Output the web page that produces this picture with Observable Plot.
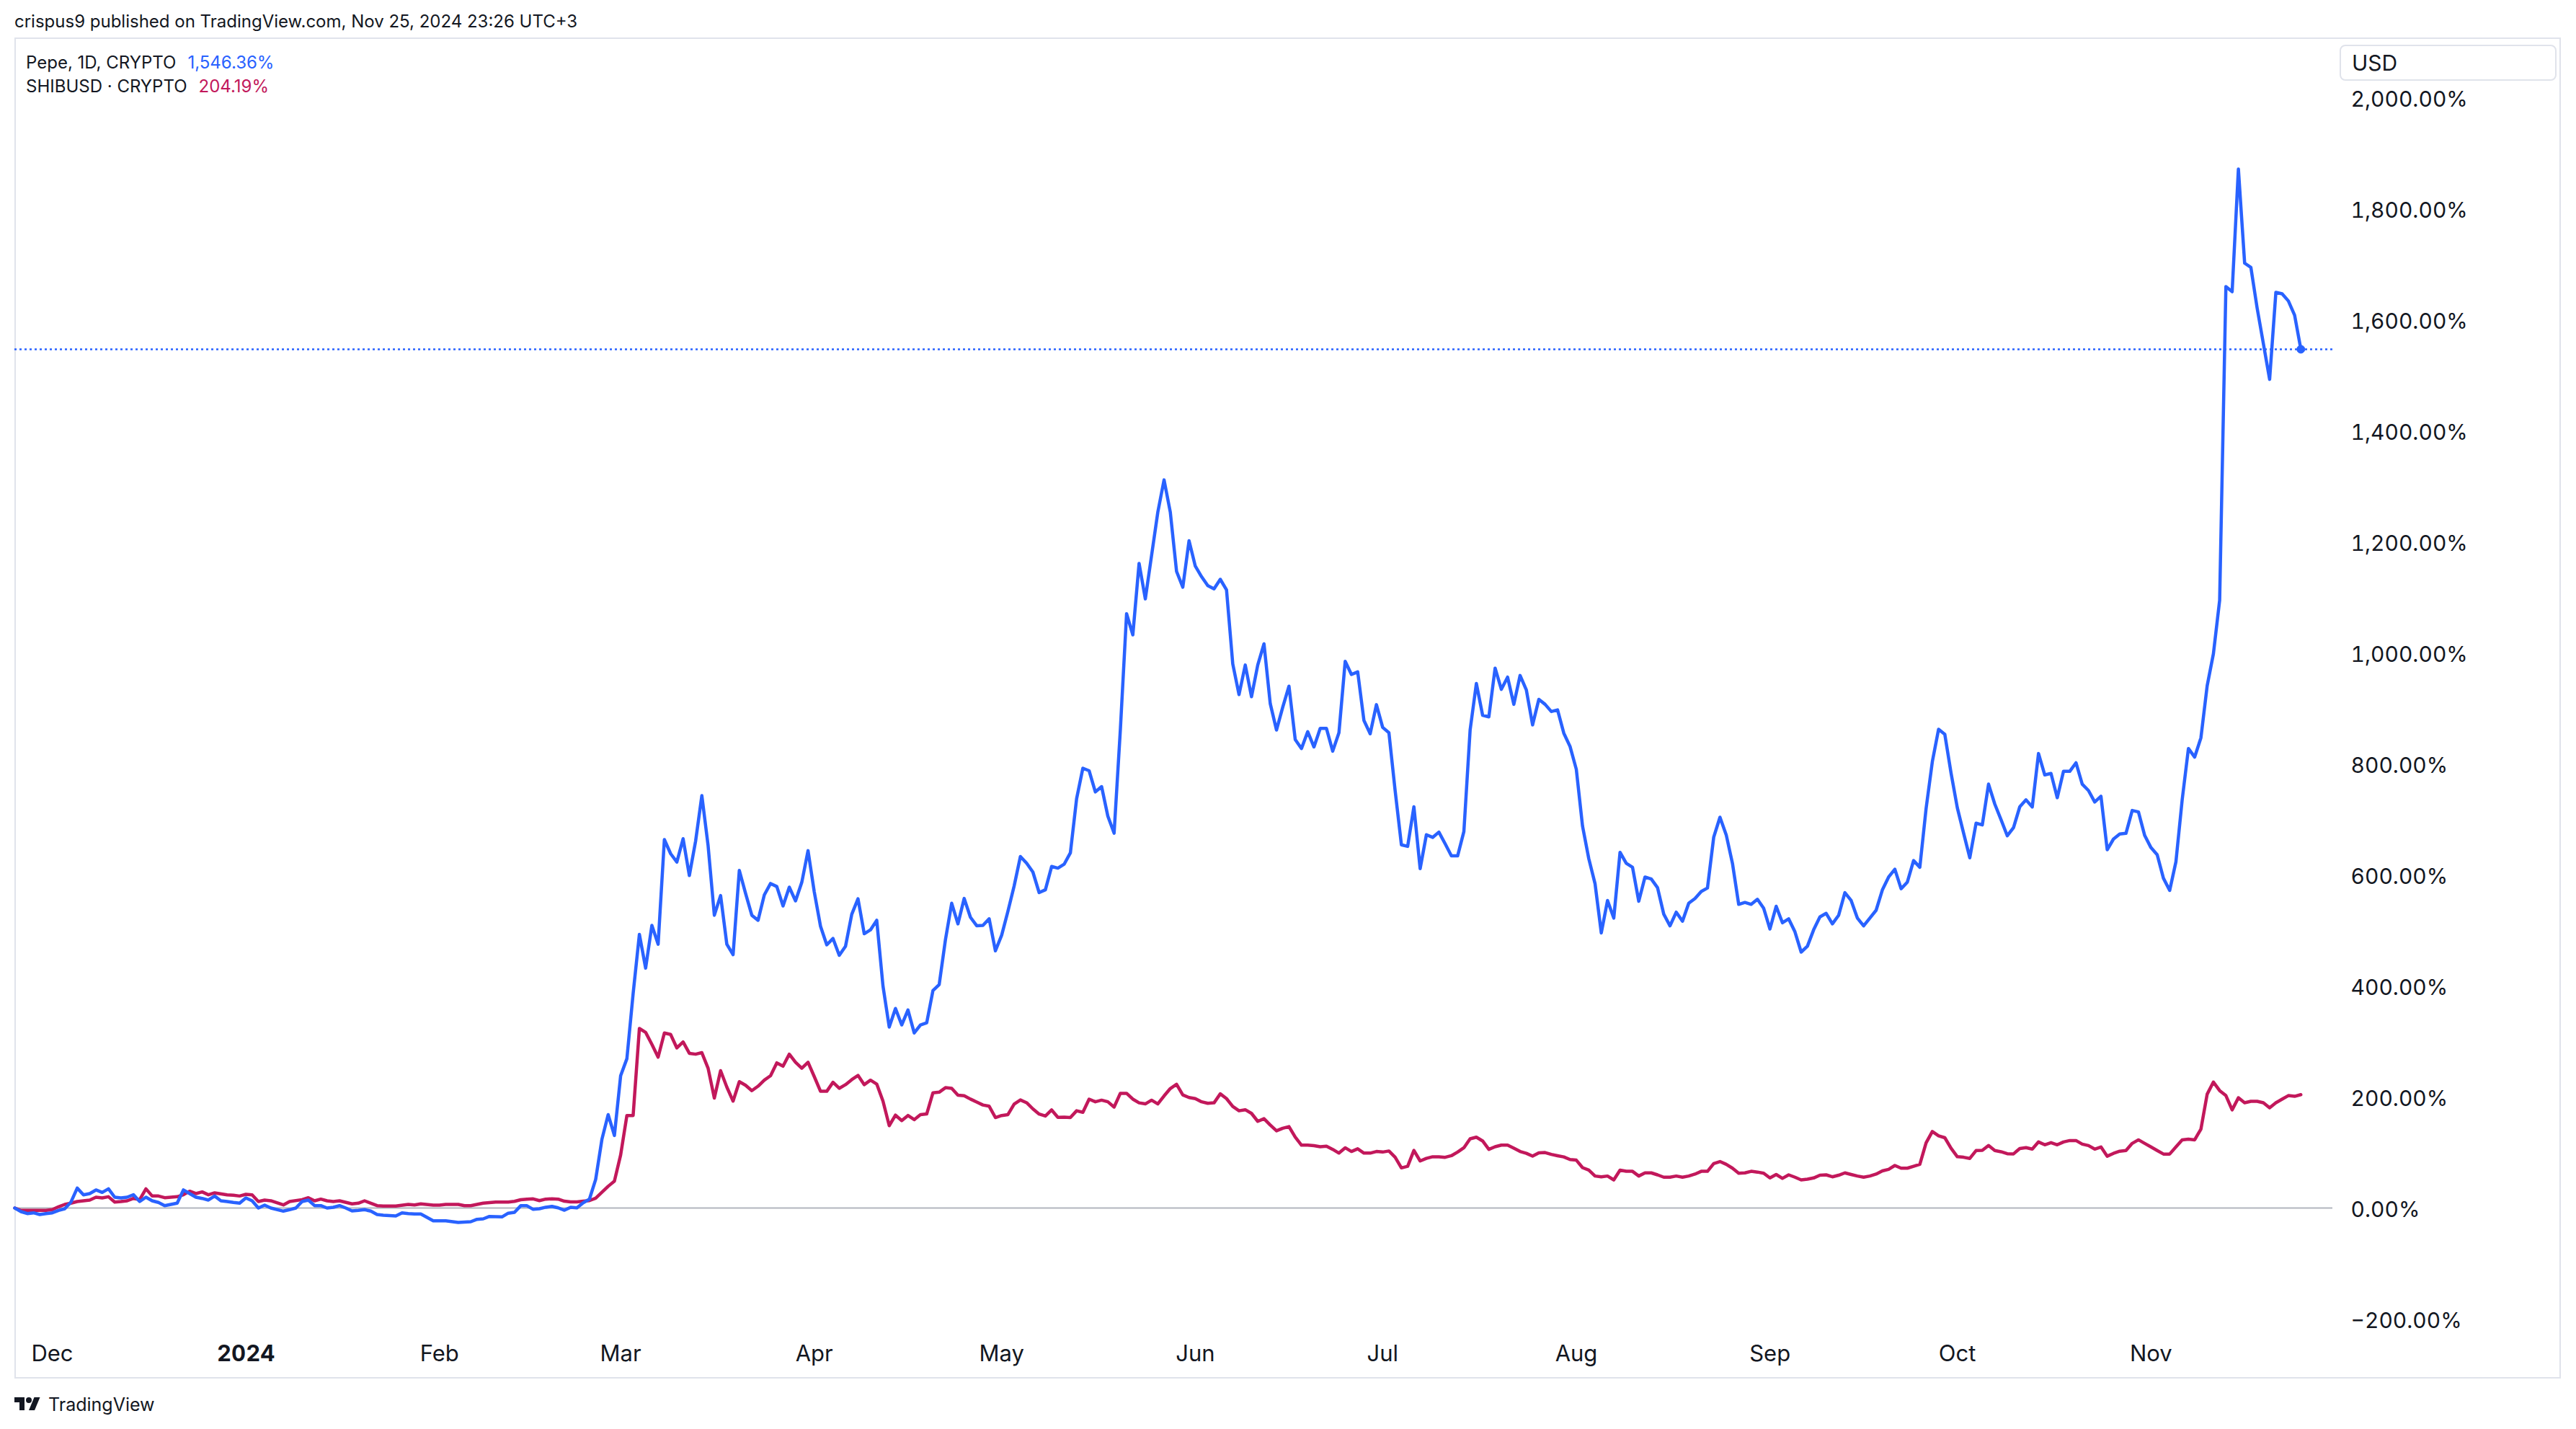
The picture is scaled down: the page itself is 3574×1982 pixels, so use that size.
<!DOCTYPE html>
<html><head><meta charset="utf-8">
<script src="https://cdn.jsdelivr.net/npm/d3@7"></script>
<script src="https://cdn.jsdelivr.net/npm/@observablehq/plot@0.6"></script>
<style>
html,body{margin:0;padding:0;background:#fff;}
#page{position:relative;width:3574px;height:1982px;font-family:Inter,"Noto Sans",sans-serif;color:#131722;overflow:hidden;background:#fff;}
#header{position:absolute;left:20px;top:14px;font-size:24px;line-height:32px;white-space:nowrap;}
#frame{position:absolute;left:20px;top:52px;width:3533px;height:1860px;box-sizing:border-box;border:2px solid #e0e3eb;}
#chart{position:absolute;left:20px;top:52px;}
#legend{position:absolute;left:36px;top:70px;font-size:24px;line-height:33px;white-space:nowrap;}
#legend .v{margin-left:16px;}
#usd{position:absolute;left:3246px;top:62px;width:301px;height:50px;box-sizing:border-box;border:2px solid #e0e3eb;border-radius:8px;font-size:30px;line-height:46px;padding-left:15px;}
#footer{position:absolute;left:20px;top:1934px;height:28px;display:flex;align-items:center;font-size:25px;}
#footer svg{margin-right:11px;}
</style></head>
<body><div id="page">
<div id="header"></div>
<div id="frame"></div>
<div id="chart"></div>
<div id="legend"></div>
<div id="usd">USD</div>
<div id="footer"><svg width="36" height="28" viewBox="0 0 36 28"><path fill="#131722" d="M14 22H7V11H0V4h14v18zM28 22h-8l7.5-18h8L28 22z"/><circle fill="#131722" cx="20" cy="8" r="4"/></svg><span>TradingView</span></div>
</div>
<script>
const headerText = "crispus9 published on TradingView.com, Nov 25, 2024 23:26 UTC+3";
const seriesNames = ["Pepe, 1D, CRYPTO", "SHIBUSD \u00b7 CRYPTO"];
const seriesColors = ["#2962ff", "#c2185b"];
const startDate = Date.UTC(2023, 10, 25);
// [day offset from 2023-11-25, % change]
const pepeSeries = [[0,0],[1,-6.5],[2,-10],[3,-8.7],[4,-11.7],[5,-10],[6,-8.7],[7,-4.3],[8,-1.3],[9,10.8],[10,35.9],[11,23.8],[12,26],[13,32.5],[14,28.1],[15,34.6],[16,19.5],[17,18.2],[18,19.5],[19,24],[20,11.7],[21,19.5],[22,13],[23,10],[24,4.3],[25,6.5],[26,8.7],[27,32.5],[28,26],[29,19.5],[30,17.3],[31,14.3],[32,21.6],[33,13],[34,11.7],[35,10],[36,8.7],[37,18.2],[38,13],[39,0],[40,5.2],[41,0],[43,-5.6],[44,-3],[45,0],[46,11.7],[47,14.3],[48,4.3],[49,4.3],[50,0],[51,1.3],[52,4.3],[53,0],[54,-5.2],[55,-4.3],[56,-3],[57,-5.6],[58,-11.7],[59,-13],[61,-14.3],[62,-8.7],[63,-10],[64,-10.8],[65,-10.8],[67,-23],[69,-23],[71,-26],[73,-24.7],[74,-20.3],[75,-19.5],[76,-15.1],[78,-16],
[79,-9.3],[80,-7.7],[81,4.1],[82,4.1],[83,-2.4],[84,-1.3],[85,1.4],[86,3],[87,0.3],[88,-4],[89,1.4],[90,0.3],[91,9.5],[92,15.9],[93,51.5],[94,123.6],[95,168.2],[96,130.6],[97,238.2],[98,268.9],[99,386.2],[100,492.8],[101,432],[102,508.9],[103,475],[104,663.4],[105,638.1],[106,623],[107,665],[108,598.8],[109,660.7],[110,742.5],[111,652.6],[112,527.2],[113,562.7],[114,475],[115,456.2],[116,607.9],[117,566.5],[118,527.2],[119,518.1],[120,563.8],[121,584.3],[122,578.9],[123,543.9],[124,577.8],[125,553.1],[126,586.4],[127,643.5],[128,569.2],[129,507.3],[130,473.9],[131,485.3],[132,455.1],[133,471.3],[134,528.8],[135,556.8],[136,493.9],[137,500.9],[138,518.1],[139,399.7],[140,325.9],[141,359.3],[142,329.7],[143,356.6],[144,315.2],[145,329.7],[146,333.5],[147,391.6],[148,402.4],[149,483.1],[150,548.8],[151,511.6],[152,557.4],[153,523.5],[154,508.4],[155,508.9],[156,520.8],[157,463.2],[158,491.2],[159,534.2],
[160,580],[161,633],[162,621],[163,605],[164,568],[165,573],[166,615],[167,612],[168,619],[169,639.5],[170,737],[171,792],[172,787.4],[173,749.3],[174,758.8],[175,705.5],[176,675],[177,860.7],[178,1070.2],[179,1032.1],[180,1160.7],[181,1096.9],[182,1174.9],[183,1253],[184,1311.1],[185,1253],[186,1146.4],[187,1117.8],[188,1201.6],[189,1155.9],[190,1136.9],[191,1120.7],[192,1115],[193,1132.1],[194,1113.1],[195,979.7],[196,924.5],[197,977.8],[198,920.7],[199,977.8],[200,1015.9],[201,908.3],[202,860.7],[203,901.7],[204,939.7],[205,843.6],[206,827.4],[207,857.8],[208,830.2],[209,863.6],[210,863.6],[211,822.6],[212,855.9],[213,984.5],[214,960.7],[215,965.5],[216,878],[217,854],[218,906.4],[219,865.5],[220,855.9],[221,751.2],[222,654],[223,651.2],[224,722.6],[225,611.2],[226,672.2],[227,667.4],[228,676.9],[229,656],[230,634.1],[231,634.1],[232,677.9],[233,860.7],[234,944.5],[235,887.4],[236,884.5],[237,972.1],[238,934],[239,955.9],
[240,907],[241,959],[242,933],[243,870],[244,916],[245,907],[246,894],[247,897],[248,855],[249,831],[250,790],[251,687.5],[252,629],[253,584.1],[254,495.4],[255,553.8],[256,522.1],[257,640.4],[258,620.7],[259,613.6],[260,552.4],[261,596],[262,592.5],[263,577],[264,529.2],[265,508.1],[266,532.7],[267,516.5],[268,548.9],[269,557.3],[270,570],[271,576.3],[272,667.8],[273,703.7],[274,672],[275,620.7],[276,546.8],[277,550.3],[278,546.8],[279,555.9],[280,539.7],[281,502.4],[282,543.3],[283,513.7],[284,520.7],[285,497.5],[286,460.9],[287,471.5],[288,501],[289,524.2],[290,530.6],[291,511.6],[292,527.1],[293,567.9],[294,553.8],[295,522.1],[296,508.1],[297,522.1],[298,536.2],[299,572.8],[300,596],[301,610.1],[302,574.9],[303,586.9],[304,625.6],[305,613.6],[306,719.2],[307,803.7],[308,862.1],[309,852.9],
[310,783],[311,720.7],[312,675.3],[313,630.7],[314,692.9],[315,689.8],[316,763.3],[317,727.4],[318,699.2],[319,670.3],[320,685.1],[321,722.5],[322,735],[323,722.2],[324,818.4],[325,779.9],[326,782.5],[327,738.8],[328,786.3],[329,786.3],[330,801.7],[331,763.2],[332,751.7],[333,731.1],[334,741.4],[335,645.2],[336,664.4],[337,673.4],[338,674.7],[339,715.8],[340,713.2],[341,670.8],[342,649],[343,636.2],[344,593.8],[345,572],[346,623.4],[347,735],[348,827.4],[349,812],[350,846.7],[351,940.3],[352,998.1],[353,1094.4],[354,1659.1],[355,1650.1],[356,1870.8],[357,1701.4],[358,1693.7],[359,1620.6],[360,1556.4],[361,1492.2],[362,1648.8],[363,1646.2],[364,1633.4],[365,1607.7],[366,1546.36]];
const shibSeries = [[0,0],[1,-4.3],[3,-4.3],[5,-4.3],[6,-3],[7,2.2],[8,6.5],[9,8.7],[10,11.7],[11,13],[12,14.3],[13,19.5],[14,18.2],[15,20.3],[16,10.8],[17,11.7],[18,13],[19,17.3],[20,15.1],[21,34.6],[22,21.6],[23,21.6],[24,18.6],[26,20.3],[27,23.8],[28,30.3],[29,26],[30,29],[31,23.8],[32,27.3],[34,23.8],[35,23],[36,21.6],[37,24.7],[38,23.8],[39,11.7],[40,14.3],[41,13],[43,5.6],[44,11.7],[46,15.1],[47,18.6],[48,13],[49,16],[50,13],[51,11.7],[52,13],[54,7.4],[55,8.7],[56,13],[58,4.3],[59,3.5],[61,3.5],[63,6.5],[64,5.6],[65,7.4],[67,5.2],[68,5.2],[69,6.5],[71,6.5],[72,4.3],[73,4.3],[75,8.7],[77,10.8],[78,10.8],
[79,10.6],[80,12],[81,14.9],[82,16],[83,16.5],[84,13.3],[85,16],[86,16.5],[87,16],[88,12.2],[89,11.1],[90,11.1],[91,12.2],[92,13.3],[93,17.6],[94,28.3],[95,39.1],[96,48.3],[97,95.6],[98,166.6],[99,166.6],[100,323.3],[101,316.3],[102,294.7],[103,271.6],[104,315.2],[105,312.5],[106,288.3],[107,299],[108,278.6],[109,277],[110,279.7],[111,251.7],[112,197.9],[113,247.4],[114,217.8],[115,192.5],[116,227.5],[117,221],[118,211.3],[119,219.4],[120,230.2],[121,238.2],[122,261.4],[123,255.4],[124,277],[125,262.4],[126,251.7],[127,262.4],[128,236.6],[129,210.2],[130,210.2],[131,226.4],[132,215.6],[133,222.1],[134,231.2],[135,238.8],[136,222.1],[137,230.2],[138,223.2],[139,192.5],[140,148.3],[141,167.2],[142,157.5],[143,166.6],[144,159.1],[145,168.2],[146,169.3],[147,207.5],[148,208.6],[149,216.7],[150,215.6],[151,203.2],[152,202.1],[153,196.2],[154,190.9],[155,185.5],[156,183.3],[157,162.9],[158,166.6],[159,168.2],
[160,187],[161,194.6],[162,189.6],[163,178.5],[164,169.2],[165,165.6],[166,176.6],[167,163.3],[168,163.7],[169,162.8],[170,175.1],[171,172.3],[172,196.1],[173,191.3],[174,194.2],[175,191.3],[176,181.8],[177,206.5],[178,206.5],[179,196.1],[180,189.4],[181,187.5],[182,194.2],[183,187.5],[184,201.8],[185,215.1],[186,222.7],[187,203.7],[188,198.9],[189,197],[190,191.3],[191,188.5],[192,189.4],[193,205.6],[194,197],[195,182.8],[196,175.1],[197,177],[198,170.4],[199,156.1],[200,160.9],[201,149.4],[202,139],[203,143.7],[204,146.6],[205,127.6],[206,113.2],[207,113.2],[208,112.3],[209,110.4],[210,111.3],[211,105.6],[212,98.9],[213,108.5],[214,101.8],[215,106.6],[216,98.9],[217,98.9],[218,101.8],[219,100.8],[220,102.7],[221,91.3],[222,72.3],[223,75.1],[224,103.7],[225,84.7],[226,89.4],[227,92.3],[228,92.3],[229,91.3],[230,94.2],[231,100.8],[232,108.5],[233,124.7],[234,127.6],[235,120.8],[236,105.6],[237,110.4],[238,113.2],[239,113.2],
[240,107.7],[241,101.8],[242,98.5],[243,93.5],[244,99.4],[245,99.9],[246,96.6],[247,94.2],[248,92],[249,87.3],[250,86.2],[251,72.7],[252,68.3],[253,57.6],[254,56.2],[255,57.6],[256,50.6],[257,68.2],[258,66.1],[259,66.1],[260,57.6],[261,63.3],[262,63.3],[263,59.7],[264,55.5],[265,55.5],[266,57.6],[267,55.5],[268,57.6],[269,61.1],[270,66.1],[271,66.1],[272,80.1],[273,83.7],[274,78.7],[275,71.7],[276,62.6],[277,63.3],[278,66.1],[279,64.7],[280,62.6],[281,54.1],[282,60.4],[283,53.4],[284,59.7],[285,55.5],[286,50.6],[287,52],[288,54.1],[289,59],[290,59.7],[291,56.2],[292,59],[293,63.3],[294,60.4],[295,57.6],[296,55.5],[297,57.6],[298,61.1],[299,66.8],[300,69.6],[301,76.6],[302,71.7],[303,71.7],[304,75.2],[305,78.7],[306,117.4],[307,137.8],[308,130.1],[309,126.6],
[310,107.5],[311,92.4],[312,91.4],[313,89.3],[314,103.5],[315,103.8],[316,112.5],[317,103.5],[318,101.3],[319,97.8],[320,97.5],[321,107.2],[322,108.7],[323,106.1],[324,119],[325,113.9],[326,117.7],[327,113.9],[328,119],[329,121.5],[330,121.5],[331,115.1],[332,112.5],[333,106.1],[334,110],[335,93.3],[336,98.4],[337,102.3],[338,103.6],[339,116.4],[340,122.8],[341,116.4],[342,110],[343,103.6],[344,97.2],[345,97.2],[346,110],[347,122.8],[348,124.1],[349,122.8],[350,142.1],[351,205],[352,226.8],[353,211.4],[354,202.4],[355,176.7],[356,198.5],[357,189.5],[358,192.1],[359,192.1],[360,189.5],[361,180.6],[362,189.5],[363,196],[364,202.4],[365,201.1],[366,204.19]];
const lastValues = ["1,546.36%", "204.19%"];
const monthTicks = ["2023-12-01","2024-01-01","2024-02-01","2024-03-01","2024-04-01","2024-05-01","2024-06-01","2024-07-01","2024-08-01","2024-09-01","2024-10-01","2024-11-01"];
const monthLabels = ["Dec","2024","Feb","Mar","Apr","May","Jun","Jul","Aug","Sep","Oct","Nov"];
const yTicks = [-200,0,200,400,600,800,1000,1200,1400,1600,1800,2000];

// header + legend
document.getElementById("header").textContent = headerText;
const legend = document.getElementById("legend");
seriesNames.forEach((n, i) => {
  const row = document.createElement("div");
  row.innerHTML = `<span>${n}</span><span class="v" style="color:${seriesColors[i]}">${lastValues[i]}</span>`;
  legend.appendChild(row);
});

const toDate = d => new Date(startDate + d * 864e5);
const pepe = pepeSeries.map(([d, v]) => ({date: toDate(d), value: v}));
const shib = shibSeries.map(([d, v]) => ({date: toDate(d), value: v}));
const last = pepe[pepe.length - 1];

const tickDates = monthTicks.map(s => new Date(s + "T00:00:00Z"));
const labelOf = new Map(tickDates.map((d, i) => [+d, monthLabels[i]]));
const boldTicks = tickDates.filter(d => /^\d{4}$/.test(labelOf.get(+d)));
const normalTicks = tickDates.filter(d => !/^\d{4}$/.test(labelOf.get(+d)));
const pctFmt = d3.format(",.2f");

const W = 3533, H = 1860, mR = 317, mB = 62;
const pxPerDay = 8.666;
const xEnd = new Date(startDate + ((W - mR) / pxPerDay) * 864e5);

const chart = Plot.plot({
  width: W, height: H,
  marginLeft: 0, marginRight: mR, marginTop: 0, marginBottom: mB,
  style: {fontFamily: "Inter, 'Noto Sans', sans-serif", color: "#131722", background: "transparent", overflow: "visible"},
  x: {type: "utc", domain: [new Date(startDate), xEnd]},
  y: {domain: [-227.2, 2107.1]},
  marks: [
    Plot.ruleY([0], {stroke: "#b2b5be", strokeWidth: 2}),
    Plot.ruleY([last.value], {stroke: seriesColors[0], strokeWidth: 2.5, strokeDasharray: "3,4"}),
    Plot.line(shib, {x: "date", y: "value", stroke: seriesColors[1], strokeWidth: 4.5, strokeLinejoin: "round"}),
    Plot.line(pepe, {x: "date", y: "value", stroke: seriesColors[0], strokeWidth: 4.5, strokeLinejoin: "round"}),
    Plot.dot([last], {x: "date", y: "value", r: 5.5, fill: seriesColors[0], stroke: seriesColors[0], strokeWidth: 1}),
    Plot.axisX({ticks: normalTicks, tickFormat: d => labelOf.get(+d), tickSize: 0, tickPadding: 15, fontSize: 31, label: null}),
    Plot.axisX({ticks: boldTicks, tickFormat: d => labelOf.get(+d), tickSize: 0, tickPadding: 15, fontSize: 31, fontWeight: "bold", label: null}),
    Plot.axisY({anchor: "right", ticks: yTicks, tickFormat: d => pctFmt(d) + "%", tickSize: 0, tickPadding: 25, fontSize: 30, dy: 3, label: null})
  ]
});
document.getElementById("chart").appendChild(chart);
</script>
</body></html>
